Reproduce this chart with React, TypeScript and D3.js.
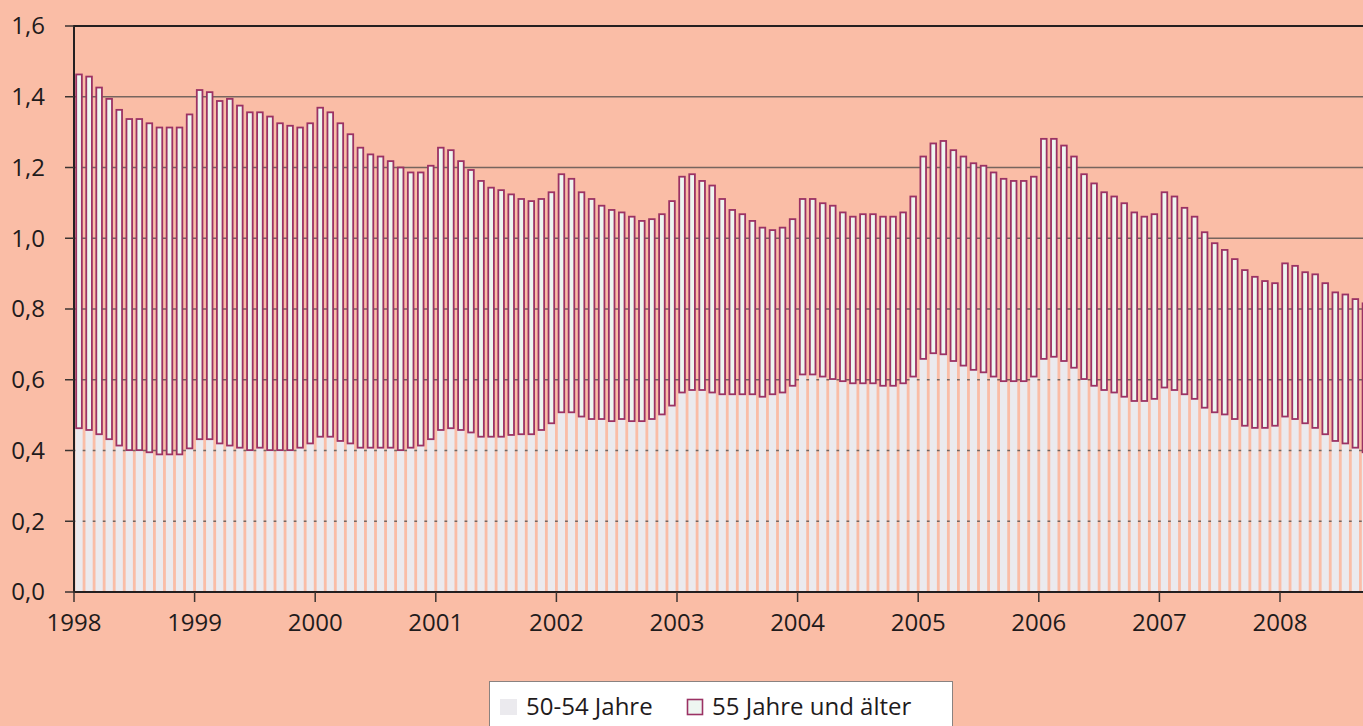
import { useEffect, useRef } from 'react';
import * as d3 from 'd3';

// years shown on the x axis (monthly bars, Jan 1998 .. Sep 2008)
const years = ['1998', '1999', '2000', '2001', '2002', '2003', '2004', '2005', '2006', '2007', '2008'];
const monthsPerYear = 12;
const lastYearMonths = 9;

// 50-54 Jahre (lower stack)
const age5054 = [
  0.463, 0.458, 0.446, 0.432, 0.414, 0.401, 0.401, 0.395, 0.389, 0.389, 0.389, 0.406,
  0.432, 0.432, 0.420, 0.414, 0.408, 0.401, 0.408, 0.401, 0.401, 0.401, 0.408, 0.420,
  0.439, 0.439, 0.427, 0.420, 0.408, 0.408, 0.408, 0.408, 0.401, 0.408, 0.414, 0.432,
  0.458, 0.463, 0.458, 0.451, 0.439, 0.439, 0.439, 0.444, 0.446, 0.446, 0.458, 0.477,
  0.508, 0.508, 0.496, 0.489, 0.489, 0.483, 0.489, 0.483, 0.483, 0.489, 0.502, 0.527,
  0.564, 0.571, 0.571, 0.564, 0.559, 0.559, 0.559, 0.559, 0.552, 0.559, 0.564, 0.583,
  0.615, 0.615, 0.609, 0.602, 0.596, 0.590, 0.590, 0.590, 0.583, 0.583, 0.590, 0.609,
  0.659, 0.675, 0.672, 0.653, 0.640, 0.628, 0.621, 0.609, 0.596, 0.596, 0.596, 0.609,
  0.659, 0.665, 0.653, 0.634, 0.602, 0.583, 0.571, 0.564, 0.552, 0.540, 0.540, 0.546,
  0.578, 0.571, 0.559, 0.546, 0.521, 0.508, 0.502, 0.489, 0.470, 0.464, 0.464, 0.470,
  0.496, 0.489, 0.477, 0.464, 0.446, 0.427, 0.420, 0.408, 0.395,
];

// 55 Jahre und älter (upper stack)
const age55plus = [
  1.000, 0.999, 0.980, 0.962, 0.949, 0.936, 0.936, 0.930, 0.924, 0.924, 0.924, 0.944,
  0.987, 0.981, 0.968, 0.980, 0.967, 0.955, 0.948, 0.943, 0.924, 0.917, 0.905, 0.905,
  0.930, 0.917, 0.898, 0.874, 0.848, 0.829, 0.823, 0.810, 0.799, 0.778, 0.772, 0.773,
  0.798, 0.786, 0.760, 0.742, 0.723, 0.704, 0.697, 0.680, 0.665, 0.659, 0.653, 0.653,
  0.673, 0.660, 0.634, 0.622, 0.603, 0.597, 0.584, 0.578, 0.566, 0.565, 0.566, 0.578,
  0.610, 0.610, 0.591, 0.585, 0.552, 0.521, 0.509, 0.490, 0.478, 0.464, 0.466, 0.471,
  0.496, 0.496, 0.490, 0.490, 0.477, 0.471, 0.478, 0.478, 0.478, 0.478, 0.483, 0.509,
  0.572, 0.593, 0.603, 0.596, 0.591, 0.584, 0.584, 0.577, 0.572, 0.566, 0.566, 0.565,
  0.622, 0.616, 0.609, 0.597, 0.579, 0.572, 0.559, 0.554, 0.547, 0.533, 0.521, 0.522,
  0.552, 0.547, 0.527, 0.515, 0.496, 0.478, 0.465, 0.452, 0.440, 0.427, 0.415, 0.403,
  0.433, 0.433, 0.427, 0.434, 0.427, 0.420, 0.421, 0.420, 0.421,
];

const yTicks = [0, 0.2, 0.4, 0.6, 0.8, 1.0, 1.2, 1.4, 1.6];
const seriesNames = ['50-54 Jahre', '55 Jahre und älter'];

export default function App() {
  const svgRef = useRef<SVGSVGElement>(null);

  useEffect(() => {
    if (!svgRef.current) return;
    const svg = d3.select(svgRef.current);
    svg.selectAll('*').remove();

    const width = 1363;
    const height = 726;
    const bg = '#fabda6';
    const font = '"Open Sans", "DejaVu Sans", sans-serif';
    const fontSize = '24px';
    const textColor = '#1f1b1c';

    // month categories
    const months: string[] = [];
    years.forEach((y, yi) => {
      const n = yi === years.length - 1 ? lastYearMonths : monthsPerYear;
      for (let m = 1; m <= n; m++) months.push(`${y}-${String(m).padStart(2, '0')}`);
    });

    const table = months.map((m, i) => ({ month: m, a: age5054[i], b: age55plus[i] }));
    const stacked = d3.stack<any>().keys(['a', 'b'])(table);

    const step = 10.05;
    const pad = 0.28;
    const left = 74;
    const x = d3.scaleBand<string>()
      .domain(months)
      .range([left, left + step * (months.length + pad)])
      .paddingInner(pad)
      .paddingOuter(pad)
      .align(0.25);
    const st = x.step();
    const tickX = (m: string) => x(m)! - (st * pad) / 2;

    const y = d3.scaleLinear().domain([0, 1.6]).range([592, 26]);

    svg.append('rect').attr('width', width).attr('height', height).attr('fill', bg);

    // grid lines (behind bars)
    svg.append('g')
      .selectAll('line')
      .data(yTicks.filter(t => t > 0 && t < 1.6))
      .enter().append('line')
      .attr('x1', left).attr('x2', width)
      .attr('y1', d => y(d)).attr('y2', d => y(d))
      .attr('stroke', '#76655e')
      .attr('stroke-width', 1.5);

    // 50-54 bars
    svg.append('g')
      .selectAll('rect')
      .data(stacked[0])
      .enter().append('rect')
      .attr('x', d => x(d.data.month)!)
      .attr('width', x.bandwidth())
      .attr('y', d => y(d[1]))
      .attr('height', d => y(d[0]) - y(d[1]))
      .attr('fill', '#ebeaee');

    // 55+ bars
    svg.append('g')
      .selectAll('rect')
      .data(stacked[1])
      .enter().append('rect')
      .attr('x', d => x(d.data.month)! + 0.8)
      .attr('width', x.bandwidth() - 1.6)
      .attr('y', d => y(d[1]))
      .attr('height', d => y(d[0]) - y(d[1]))
      .attr('fill', '#eef6f1')
      .attr('stroke', '#9b3264')
      .attr('stroke-width', 1.8);

    // frame: top and left, bottom axis
    svg.append('line')
      .attr('x1', left).attr('x2', width).attr('y1', y(1.6)).attr('y2', y(1.6))
      .attr('stroke', '#231f20').attr('stroke-width', 2);
    svg.append('line')
      .attr('x1', left).attr('x2', left).attr('y1', y(1.6) - 1).attr('y2', y(0) + 1)
      .attr('stroke', '#231f20').attr('stroke-width', 2);
    svg.append('line')
      .attr('x1', left).attr('x2', width).attr('y1', y(0)).attr('y2', y(0))
      .attr('stroke', '#231f20').attr('stroke-width', 2);

    // y ticks + labels
    const yg = svg.append('g');
    yg.selectAll('line')
      .data(yTicks)
      .enter().append('line')
      .attr('x1', 65).attr('x2', left)
      .attr('y1', d => y(d)).attr('y2', d => y(d))
      .attr('stroke', '#3a3330').attr('stroke-width', 1.5);
    yg.selectAll('text')
      .data(yTicks)
      .enter().append('text')
      .attr('x', 45)
      .attr('y', d => y(d))
      .attr('dy', '0.35em')
      .attr('text-anchor', 'end')
      .style('font-family', font)
      .style('font-size', fontSize)
      .attr('fill', textColor)
      .text(d => d3.format('.1f')(d).replace('.', ','));

    // x ticks + labels
    const xg = svg.append('g');
    xg.selectAll('line')
      .data(years)
      .enter().append('line')
      .attr('x1', d => tickX(`${d}-01`)).attr('x2', d => tickX(`${d}-01`))
      .attr('y1', y(0)).attr('y2', y(0) + 10)
      .attr('stroke', '#3a3330').attr('stroke-width', 1.5);
    xg.selectAll('text')
      .data(years)
      .enter().append('text')
      .attr('x', d => tickX(`${d}-01`))
      .attr('y', 631)
      .attr('text-anchor', 'middle')
      .style('font-family', font)
      .style('font-size', fontSize)
      .attr('fill', textColor)
      .text(d => d);

    // legend
    const lg = svg.append('g');
    lg.append('rect')
      .attr('x', 489.5).attr('y', 681.5).attr('width', 463).attr('height', 60)
      .attr('fill', '#ffffff').attr('stroke', '#8a8280').attr('stroke-width', 1);
    lg.append('rect')
      .attr('x', 500).attr('y', 699).attr('width', 17).attr('height', 16)
      .attr('fill', '#ebeaee');
    lg.append('text')
      .attr('x', 526).attr('y', 715)
      .style('font-family', font).style('font-size', fontSize)
      .attr('fill', textColor)
      .text(seriesNames[0]);
    lg.append('rect')
      .attr('x', 687.5).attr('y', 699.5).attr('width', 15).attr('height', 15)
      .attr('fill', '#eef6f1').attr('stroke', '#9b3264').attr('stroke-width', 1.6);
    lg.append('text')
      .attr('x', 712).attr('y', 715)
      .style('font-family', font).style('font-size', fontSize)
      .attr('fill', textColor)
      .text(seriesNames[1]);
  }, []);

  return (
    <div style={{ position: 'absolute', left: 0, top: 0, width: 1363, height: 726, overflow: 'hidden' }}>
      <svg ref={svgRef} width={1363} height={726} style={{ display: 'block' }} />
    </div>
  );
}
